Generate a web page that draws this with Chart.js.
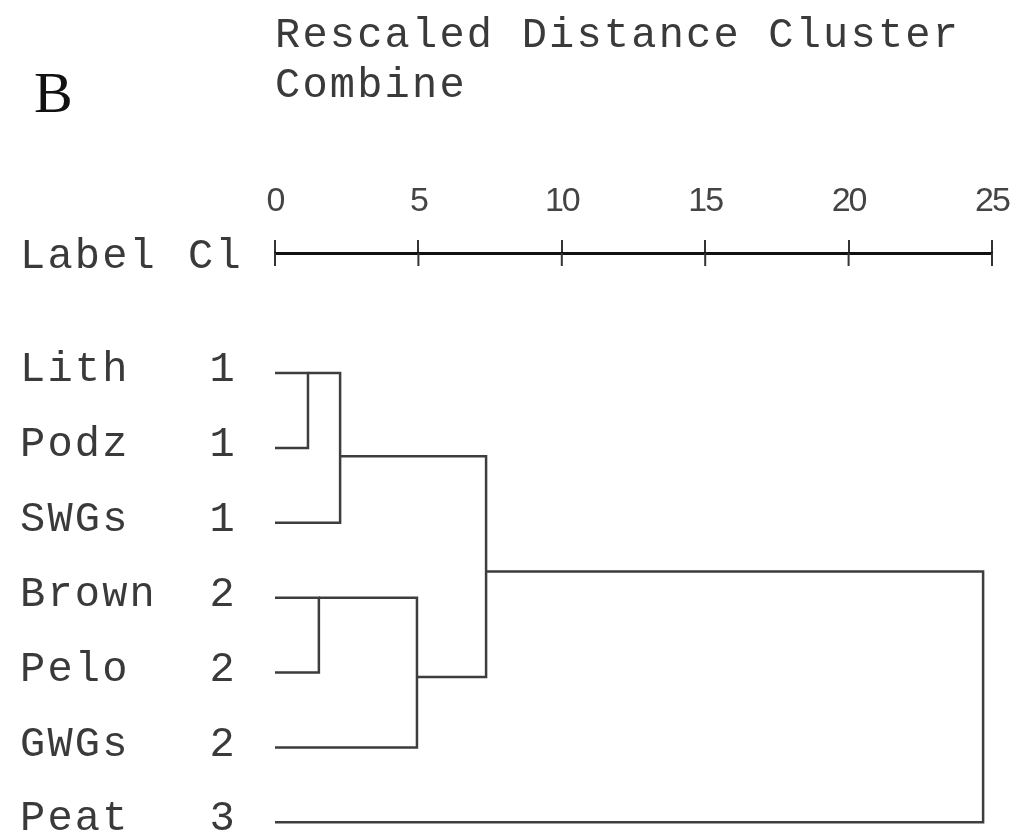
<!DOCTYPE html>
<html><head><meta charset="utf-8">
<script src="https://cdn.jsdelivr.net/npm/chart.js@4.4.1/dist/chart.umd.min.js"></script>
<style>html,body{margin:0;padding:0;background:#fff;overflow:hidden;}#wrap{width:1010px;height:833px;position:relative;}canvas{display:block;}</style>
</head><body><div id="wrap"><canvas id="c" width="1010" height="833"></canvas></div>
<script>
// ---- data ----
const leafLabels = ['Lith','Podz','SWGs','Brown','Pelo','GWGs','Peat'];
const leafClusters = ['1','1','1','2','2','2','3'];
const leafRows = [0,1,2,3,4,5,6];
const xTickValues = [0,5,10,15,20,25];
// merges: node ids 0-6 are leaves, 7.. are merges in order
const mergeLeft = [0,7,3,9,8,11];
const mergeRight = [1,2,4,5,10,6];
const mergeDistance = [1.15,2.27,1.53,4.95,7.36,24.69];
const mergeRow = [0,1.11,3,4.06,2.65,2.65];

const nodeX = leafRows.map(()=>0).concat(mergeDistance);
const nodeY = leafRows.concat(mergeRow);

const datasets = mergeLeft.map((a,i)=>{
  const b = mergeRight[i], h = mergeDistance[i];
  return {
    data:[{x:nodeX[a],y:nodeY[a]},{x:h,y:nodeY[a]},{x:h,y:nodeY[b]},{x:nodeX[b],y:nodeY[b]}],
    showLine:true, borderColor:'#3d3d3d', borderWidth:2.5, pointRadius:0, fill:false,
    tension:0, clip:false, borderJoinStyle:'miter'
  };
});

const textColor = '#3a3a3a';
const mono = "'Liberation Mono','Courier New',monospace";
const monoSize = 42;
const spacing = '2.2px';

const extras = {
  id:'extras',
  beforeDraw(chart){ chart.ctx.letterSpacing = spacing; },
  afterDatasetsDraw(chart){ chart.ctx.letterSpacing = '-2px'; },
  afterDraw(chart){
    const ctx = chart.ctx, s = chart.scales.x, top = chart.chartArea.top;
    ctx.save();
    ctx.strokeStyle = '#333'; ctx.lineWidth = 2;
    s.ticks.forEach(t=>{
      const px = s.getPixelForValue(t.value);
      ctx.beginPath(); ctx.moveTo(px, top); ctx.lineTo(px, top+13); ctx.stroke();
    });
    ctx.fillStyle = textColor; ctx.textBaseline = 'alphabetic'; ctx.textAlign = 'left';
    ctx.letterSpacing = spacing;
    ctx.font = monoSize + "px " + mono;
    ctx.fillText('Label', 20, 268);
    ctx.fillText('Cl', 188, 268);
    ctx.letterSpacing = '0px';
    ctx.fillStyle = '#111';
    ctx.font = "58px 'Liberation Serif','Times New Roman',serif";
    ctx.fillText('B', 34, 112);
    ctx.restore();
    ctx.letterSpacing = '0px';
  }
};

function noPad(s){ s.paddingLeft = 0; s.paddingRight = 0; s.paddingTop = 0; s.paddingBottom = 0; }

const yMin = -1.604, yMax = 6.143;
new Chart(document.getElementById('c'), {
  type:'scatter',
  data:{datasets},
  plugins:[extras],
  options:{
    responsive:false, animation:false, devicePixelRatio:1,
    layout:{padding:{left:20,right:18,top:0,bottom:0}, autoPadding:false},
    plugins:{
      legend:{display:false}, tooltip:{enabled:false},
      title:{display:true, text:['Rescaled Distance Cluster','Combine'], align:'start', fullSize:false,
        position:'top', color:textColor, font:{family:mono, size:monoSize, weight:'normal', lineHeight:'50px'},
        padding:{top:11,bottom:0}}
    },
    scales:{
      x:{type:'linear', position:'top', min:0, max:25,
        afterBuildTicks:s=>{s.ticks = xTickValues.map(v=>({value:v}));},
        afterFit:s=>{s.height = 142; noPad(s);},
        ticks:{z:1, padding:18, color:'#444', autoSkip:false, maxRotation:0,
          font:{family:"'Liberation Sans Narrow','Liberation Sans',sans-serif", size:34}},
        grid:{display:true, drawOnChartArea:false, drawTicks:true, tickLength:13, tickWidth:2, tickColor:'#333', lineWidth:2},
        border:{display:true, color:'#111', width:3}
      },
      y:{type:'linear', position:'left', weight:10, reverse:true, min:yMin, max:yMax,
        afterBuildTicks:s=>{s.ticks = leafRows.map(v=>({value:v}));},
        afterFit:s=>{s.width = 175; noPad(s);},
        ticks:{crossAlign:'far', padding:0, labelOffset:-3, color:textColor, autoSkip:false,
          font:{family:mono, size:monoSize}, callback:v=>leafLabels[v]},
        grid:{display:false, drawTicks:false}, border:{display:false}
      },
      yc:{type:'linear', position:'left', weight:1, reverse:true, min:yMin, max:yMax,
        afterBuildTicks:s=>{s.ticks = leafRows.map(v=>({value:v}));},
        afterFit:s=>{s.width = 80; noPad(s);},
        ticks:{crossAlign:'near', padding:38, labelOffset:-3, color:textColor, autoSkip:false,
          font:{family:mono, size:monoSize}, callback:v=>leafClusters[v]},
        grid:{display:false, drawTicks:false}, border:{display:false}
      }
    }
  }
});
</script>
</body></html>
